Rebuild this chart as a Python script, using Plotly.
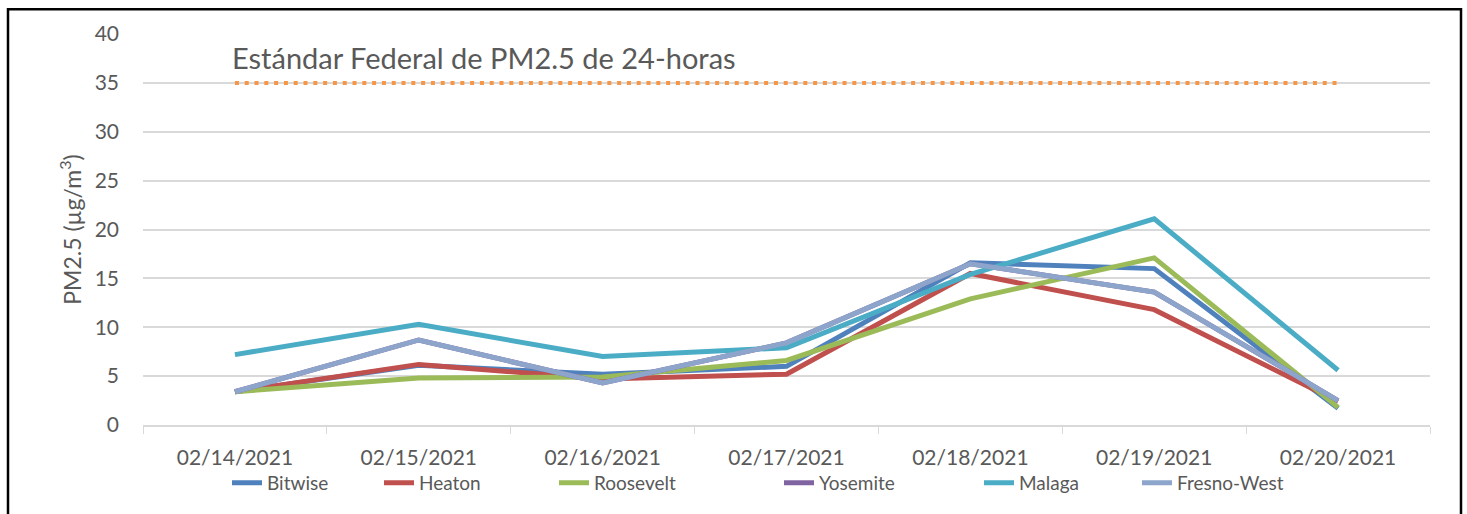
import plotly.graph_objects as go

dates = ["02/14/2021", "02/15/2021", "02/16/2021", "02/17/2021", "02/18/2021", "02/19/2021", "02/20/2021"]
bitwise = [3.4, 6.1, 5.2, 6.0, 16.6, 16.0, 1.7]
heaton = [3.4, 6.2, 4.7, 5.2, 15.5, 11.8, 2.4]
roosevelt = [3.4, 4.8, 4.9, 6.6, 12.9, 17.1, 1.8]
yosemite = [3.4, 8.7, 4.3, 8.4, 16.5, 13.6, 2.5]
malaga = [7.2, 10.3, 7.0, 7.9, 15.4, 21.1, 5.6]
fresno_west = [3.4, 8.7, 4.3, 8.4, 16.5, 13.6, 2.5]
standard = [35, 35, 35, 35, 35, 35, 35]
standard_label = "Estándar Federal de PM2.5 de 24-horas"

series = [
    ("Bitwise", bitwise, "#4F81BD"),
    ("Heaton", heaton, "#C0504D"),
    ("Roosevelt", roosevelt, "#9BBB59"),
    ("Yosemite", yosemite, "#8064A2"),
    ("Malaga", malaga, "#4BACC6"),
    ("Fresno-West", fresno_west, "#8EA5CB"),
]
# left edge (px) of each legend text in the reference layout
legend_text_px = [268, 420, 595, 820, 1020, 1178]

PLOT_L, PLOT_W = 143, 1287

fig = go.Figure()
fig.add_trace(go.Scatter(x=dates, y=standard, mode="lines", showlegend=False,
                         line=dict(color="#F79646", width=4, dash="4px,5.8px"),
                         hoverinfo="skip"))

font = "Lato, 'Open Sans', sans-serif"
legends = {}
for i, (name, vals, col) in enumerate(series):
    key = "legend" if i == 0 else f"legend{i + 1}"
    fig.add_trace(go.Scatter(x=dates, y=vals, mode="lines", name=name,
                             line=dict(color=col, width=5),
                             legend=key))
    legends[key] = dict(orientation="h", x=(legend_text_px[i] - 41 - PLOT_L) / PLOT_W,
                        xanchor="left", y=-0.148, yanchor="middle",
                        font=dict(size=19, color="#595959", family=font),
                        bgcolor="rgba(0,0,0,0)")

fig.update_layout(
    width=1467, height=514,
    margin=dict(l=143, r=37, t=34, b=87),
    paper_bgcolor="white", plot_bgcolor="white",
    font=dict(family=font, color="#595959", size=20),
    xaxis=dict(type="category", range=[-0.5, 6.5], showgrid=False,
               showline=True, linecolor="#D9D9D9", linewidth=1.5,
               ticks="outside", tickson="boundaries", ticklen=7, tickcolor="#D9D9D9",
               ticklabelstandoff=13,
               tickfont=dict(size=21, color="#595959")),
    yaxis=dict(range=[0, 40], dtick=5, showgrid=True, gridcolor="#D9D9D9", gridwidth=1.5,
               zeroline=False, ticks="", ticklabelstandoff=23,
               tickfont=dict(size=21, color="#595959"),
               title=dict(text="PM2.5 (µg/m<sup>3</sup>)", font=dict(size=23, color="#595959"),
                          standoff=6)),
    annotations=[dict(text=standard_label, x=-0.025, xref="x", xanchor="left",
                      y=37.6, yref="y", yanchor="middle", showarrow=False,
                      font=dict(size=29, color="#595959"))],
    shapes=[dict(type="rect", xref="paper", yref="paper",
                 x0=(8 - PLOT_L) / PLOT_W, x1=(1461 - PLOT_L) / PLOT_W,
                 y0=(427 - 530) / 393, y1=(427 - 9) / 393,
                 line=dict(color="black", width=2.5), fillcolor="rgba(0,0,0,0)")],
    **legends,
)

fig.write_html("out.html", config={"displayModeBar": False},
               post_script="document.body.style.margin='0';")
